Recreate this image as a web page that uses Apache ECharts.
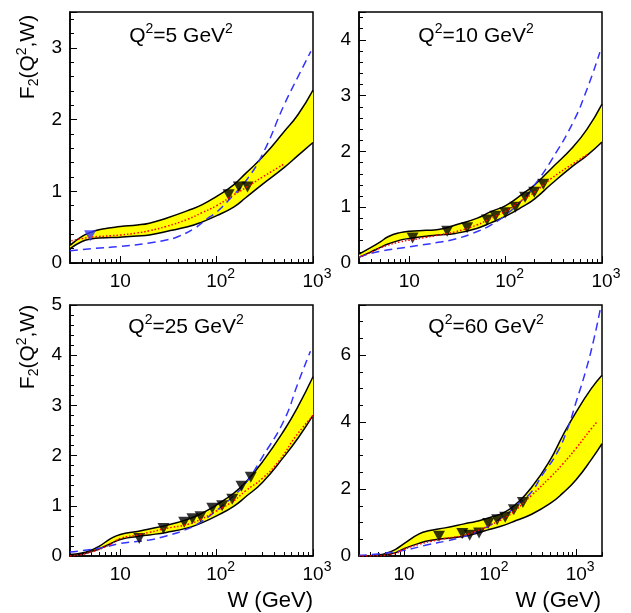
<!DOCTYPE html>
<html><head><meta charset="utf-8">
<script src="https://cdn.jsdelivr.net/npm/echarts@6/dist/echarts.min.js"></script>
<style>html,body{margin:0;padding:0;background:#fff}#c{width:631px;height:613px}</style>
</head><body><div id="c"></div>
<script>
// ---------- data ----------
// x tick values (W in GeV)
const MAJOR_X = [10, 100, 1000];
const MINOR_X = [4,5,6,7,8,9,20,30,40,50,60,70,80,90,200,300,400,500,600,700,800,900];
const MINOR_X4 = [4,5,6,7,8,9,20,30,40,50,60,70,80,90,200,300,400,500,600,700,800,900,2000];

// Panel 1: Q2 = 5 GeV2
const W1 = [3,4,5,6,8,10,15,20,30,50,70,100,150,200,300,500,700,1000];
const UP1 = [0.245,0.37,0.43,0.465,0.49,0.51,0.53,0.555,0.625,0.73,0.81,0.93,1.09,1.25,1.48,1.83,2.07,2.41];
const LOW1 = [0.20,0.30,0.335,0.35,0.355,0.36,0.375,0.39,0.44,0.505,0.57,0.66,0.78,0.91,1.10,1.33,1.50,1.68];
const RED_W1 = [3.1,4,5,6,8,10,15,20,30,50,70,100,150,200,300,500];
const RED1 = [0.31,0.34,0.36,0.37,0.38,0.39,0.42,0.45,0.51,0.61,0.70,0.80,0.95,1.05,1.20,1.38];
const BLUE_W1 = [3,5,10,20,30,40,60,80,100,150,200,300,500,700,950];
const BLUE1 = [0.17,0.20,0.23,0.28,0.32,0.37,0.49,0.62,0.71,0.95,1.14,1.52,2.2,2.6,2.95];
const PT_W1 = [133,170,209];
const PT1 = [0.95,1.06,1.06];
const PTB_W1 = [4.85];
const PTB1 = [0.38];

// Panel 2: Q2 = 10 GeV2
const W2 = [3,4,5,6,8,10,15,20,30,50,70,100,150,200,300,500,700,1000];
const UP2 = [0.16,0.28,0.38,0.47,0.545,0.57,0.585,0.60,0.68,0.80,0.92,1.03,1.24,1.40,1.70,2.08,2.40,2.85];
const LOW2 = [0.10,0.20,0.28,0.34,0.41,0.44,0.48,0.50,0.53,0.62,0.72,0.84,1.01,1.15,1.42,1.74,1.93,2.17];
const RED_W2 = [3,4,5,6,8,10,15,20,30,50,70,100,150,200,300,500,700];
const RED2 = [0.10,0.19,0.27,0.32,0.38,0.41,0.46,0.50,0.56,0.68,0.80,0.93,1.13,1.27,1.52,1.78,1.94];
const BLUE_W2 = [3,5,10,20,30,50,70,100,150,200,300,500,700,950];
const BLUE2 = [0.11,0.21,0.29,0.37,0.43,0.56,0.68,0.86,1.14,1.40,1.85,2.52,3.12,3.78];
const PT_W2 = [10.8,24.7,39.8,64,78,99,126,159,198,246];
const PT2 = [0.45,0.57,0.63,0.77,0.84,0.90,1.00,1.18,1.27,1.41];

// Panel 3: Q2 = 25 GeV2
const W3 = [3,4,5,6,8,10,15,20,30,50,70,100,150,200,300,500,700,1000];
const UP3 = [0.03,0.06,0.12,0.19,0.35,0.43,0.49,0.54,0.61,0.73,0.85,1.02,1.25,1.47,1.88,2.5,2.98,3.57];
const LOW3 = [0.0,0.04,0.09,0.14,0.25,0.33,0.39,0.42,0.47,0.56,0.66,0.80,0.99,1.18,1.47,1.98,2.35,2.80];
const RED_W3 = [3,4,5,6,8,10,15,20,30,50,70,100,150,200,300,450,660,1000];
const RED3 = [0.0,0.03,0.08,0.13,0.24,0.35,0.42,0.47,0.55,0.63,0.74,0.90,1.10,1.30,1.55,1.91,2.38,2.80];
const BLUE_W3 = [3,5,7,10,20,30,50,70,100,150,200,300,500,700,940];
const BLUE3 = [0.08,0.13,0.18,0.25,0.32,0.40,0.54,0.69,0.91,1.20,1.45,1.98,2.7,3.45,4.08];
const PT_W3 = [15.7,28,46,56,68,90,114,145,181,226];
const PT3 = [0.35,0.55,0.67,0.74,0.78,0.95,1.0,1.13,1.39,1.57];

// Panel 4: Q2 = 60 GeV2
const W4 = [3,4,5,6,8,10,15,20,30,50,70,100,150,200,300,500,700,1000,1500,2000];
const UP4 = [0,0.01,0.03,0.07,0.2,0.37,0.66,0.76,0.84,0.96,1.04,1.15,1.32,1.55,2.03,2.87,3.60,4.3,5.0,5.4];
const LOW4 = [0,0.0,0.01,0.03,0.1,0.22,0.38,0.46,0.52,0.59,0.68,0.80,0.93,1.06,1.24,1.57,1.88,2.28,2.88,3.36];
const RED_W4 = [3,5,8,10,15,20,30,50,70,100,150,200,300,500,700,1000,1500,1740];
const RED4 = [0,0.01,0.08,0.2,0.35,0.43,0.52,0.62,0.75,0.92,1.15,1.38,1.80,2.35,2.75,3.22,3.8,4.0];
const BLUE_W4 = [3,5,10,20,30,50,70,100,150,200,300,400,600,800,1000,1300,1600,1900];
const BLUE4 = [0.02,0.06,0.17,0.35,0.44,0.58,0.72,0.92,1.22,1.5,1.9,2.4,3.08,3.82,4.6,5.55,6.45,7.35];
const PT_W4 = [25.5,47.6,58,74.6,95,121,150,189,241];
const PT4 = [0.59,0.67,0.62,0.69,0.97,1.08,1.16,1.38,1.60];

const Q2_LABELS = ['5','10','25','60'];

// ---------- layout / style ----------
const FONT = 'Liberation Sans, Arial, Helvetica, sans-serif';
const SMOOTH = 0.5;
const GRIDS = [
  {left:70, top:12, xmax:1000, ymax:3.5, yint:1, ymin:0.2, minorX:MINOR_X},
  {left:359, top:12, xmax:1000, ymax:4.5, yint:1, ymin:0.2, minorX:MINOR_X},
  {left:70, top:305, xmax:1000, ymax:5, yint:1, ymin:0.2, minorX:MINOR_X},
  {left:359, top:305, xmax:2000, ymax:7.5, yint:2, ymin:0.5, minorX:MINOR_X4}
];
const GW = 243, GH = 251;
const PANELS = [
  {w:W1, up:UP1, low:LOW1, rw:RED_W1, r:RED1, bw:BLUE_W1, b:BLUE1, pw:PT_W1, p:PT1},
  {w:W2, up:UP2, low:LOW2, rw:RED_W2, r:RED2, bw:BLUE_W2, b:BLUE2, pw:PT_W2, p:PT2},
  {w:W3, up:UP3, low:LOW3, rw:RED_W3, r:RED3, bw:BLUE_W3, b:BLUE3, pw:PT_W3, p:PT3},
  {w:W4, up:UP4, low:LOW4, rw:RED_W4, r:RED4, bw:BLUE_W4, b:BLUE4, pw:PT_W4, p:PT4}
];
const zip = (xs, ys) => xs.map((x, i) => [x, ys[i]]);
// value-first rows so that stacking acts on the F2 (y) dimension
const zipYX = (xs, ys) => xs.map((x, i) => [ys[i], x]);

function xFmt(v) {
  const r = Math.round(Math.log10(v));
  if (Math.abs(v - Math.pow(10, r)) > 1e-6 * v) return '';
  if (r === 1) return '{b|10}';
  return '{bp|10}{s|' + r + '}';
}
const xRich = {
  b: {fontSize:19, fontFamily:FONT, color:'#000', lineHeight:30},
  bp: {fontSize:19, fontFamily:FONT, color:'#000', lineHeight:30, padding:[0,0,0,8]},
  s: {fontSize:14, fontFamily:FONT, color:'#000', lineHeight:12, verticalAlign:'top'}
};

const grid = [], xAxis = [], yAxis = [], series = [];
GRIDS.forEach((g, i) => {
  grid.push({left:g.left, top:g.top, width:GW, height:GH, show:true, borderColor:'#000', borderWidth:1.5, backgroundColor:'transparent'});
  xAxis.push({
    type:'log', logBase:10, gridIndex:i, min:3, max:g.xmax, position:'bottom',
    axisLine:{show:true, onZero:false, lineStyle:{color:'#000', width:1.5}},
    axisTick:{show:true, inside:true, length:7, customValues:MAJOR_X, lineStyle:{color:'#000', width:1}},
    axisLabel:{show:true, customValues:MAJOR_X, margin:4, formatter:xFmt, rich:xRich, color:'#000', fontSize:19, fontFamily:FONT},
    splitLine:{show:false}
  });
  xAxis.push({
    type:'log', logBase:10, gridIndex:i, min:3, max:g.xmax, position:'bottom',
    axisLine:{show:false, onZero:false},
    axisTick:{show:true, inside:true, length:4, customValues:g.minorX, lineStyle:{color:'#000', width:1}},
    axisLabel:{show:false}, splitLine:{show:false}
  });
  yAxis.push({
    type:'value', gridIndex:i, min:0, max:g.ymax, interval:g.yint, position:'left',
    axisLine:{show:true, onZero:false, lineStyle:{color:'#000', width:1.5}},
    axisTick:{show:true, inside:true, length:7, lineStyle:{color:'#000', width:1}},
    axisLabel:{show:true, margin:8, color:'#000', fontSize:19, fontFamily:FONT,
      formatter: v => (Math.abs(v - Math.round(v)) < 1e-6 && Math.round(v) % g.yint === 0) ? String(Math.round(v)) : ''},
    splitLine:{show:false}
  });
  yAxis.push({
    type:'value', gridIndex:i, min:0, max:g.ymax, interval:g.ymin, position:'left',
    axisLine:{show:false, onZero:false},
    axisTick:{show:true, inside:true, length:4, lineStyle:{color:'#000', width:1}},
    axisLabel:{show:false}, splitLine:{show:false}
  });

  const p = PANELS[i];
  const xi = 2 * i, yi = 2 * i;
  series.push({
    type:'line', xAxisIndex:xi, yAxisIndex:yi, stack:'band' + i, smooth:SMOOTH, showSymbol:false,
    encode:{x:1, y:0},
    data: zipYX(p.w, p.low), lineStyle:{color:'#000', width:1.5}, z:2, silent:true
  });
  series.push({
    type:'line', xAxisIndex:xi, yAxisIndex:yi, stack:'band' + i, smooth:SMOOTH, showSymbol:false,
    encode:{x:1, y:0},
    data: zipYX(p.w, p.up.map((u, k) => u - p.low[k])),
    areaStyle:{color:'#ffff00', opacity:1}, lineStyle:{color:'#000', width:1.5}, z:2, silent:true
  });
  series.push({
    type:'line', xAxisIndex:xi, yAxisIndex:yi, smooth:SMOOTH, showSymbol:false,
    data: zip(p.bw, p.b), lineStyle:{color:'#3333ff', width:1.5, type:[8,5]}, z:3, silent:true
  });
  series.push({
    type:'scatter', xAxisIndex:xi, yAxisIndex:yi, symbol:'triangle', symbolRotate:180, symbolSize:[12,11],
    data: zip(p.pw, p.p), itemStyle:{color:'#000'}, z:4, silent:true
  });
  if (i === 0) {
    series.push({
      type:'scatter', xAxisIndex:xi, yAxisIndex:yi, symbol:'triangle', symbolRotate:180, symbolSize:[12,11],
      data: zip(PTB_W1, PTB1), itemStyle:{color:'#3333ff'}, z:4, silent:true
    });
  }
  series.push({
    type:'line', xAxisIndex:xi, yAxisIndex:yi, smooth:SMOOTH, showSymbol:false,
    data: zip(p.rw, p.r), lineStyle:{color:'#ff0000', width:1.5, type:[1.5,2]}, z:5, silent:true
  });
});

const titleRich = {
  b: {fontSize:21, fontFamily:FONT, fill:'#000', color:'#000', lineHeight:28},
  s: {fontSize:14, fontFamily:FONT, fill:'#000', color:'#000', lineHeight:14, verticalAlign:'top'}
};
const TITLE_POS = [[181,36],[476,36],[186,327],[486,327]];
const graphic = [];
TITLE_POS.forEach((pos, i) => {
  graphic.push({type:'text', x:pos[0], y:pos[1], z:10,
    style:{text:'{b|Q}{s|2}{b|=' + Q2_LABELS[i] + ' GeV}{s|2}', rich:titleRich,
      align:'center', verticalAlign:'middle', textAlign:'center', textVerticalAlign:'middle', fill:'#000'}});
});
const yTitleRich = {
  b: {fontSize:21, fontFamily:FONT, fill:'#000', lineHeight:26},
  d: {fontSize:14, fontFamily:FONT, fill:'#000', lineHeight:12, verticalAlign:'bottom'},
  s: {fontSize:14, fontFamily:FONT, fill:'#000', lineHeight:12, verticalAlign:'top'}
};
[[28,57],[28,347]].forEach(pos => {
  graphic.push({type:'text', x:pos[0], y:pos[1], rotation:Math.PI/2, z:10,
    style:{text:'{b|F}{d|2}{b|(Q}{s|2}{b|,W)}', rich:yTitleRich,
      align:'center', verticalAlign:'middle', textAlign:'center', textVerticalAlign:'middle', fill:'#000'}});
});
[[313,601],[601,601]].forEach(pos => {
  graphic.push({type:'text', x:pos[0], y:pos[1], z:10,
    style:{text:'W (GeV)', fontSize:22, fontFamily:FONT, fill:'#000',
      align:'right', verticalAlign:'middle', textAlign:'right', textVerticalAlign:'middle'}});
});

const chart = echarts.init(document.getElementById('c'), null, {renderer:'canvas'});
chart.setOption({
  animation:false, backgroundColor:'#fff',
  grid, xAxis, yAxis, series, graphic
});
</script>
</body></html>
